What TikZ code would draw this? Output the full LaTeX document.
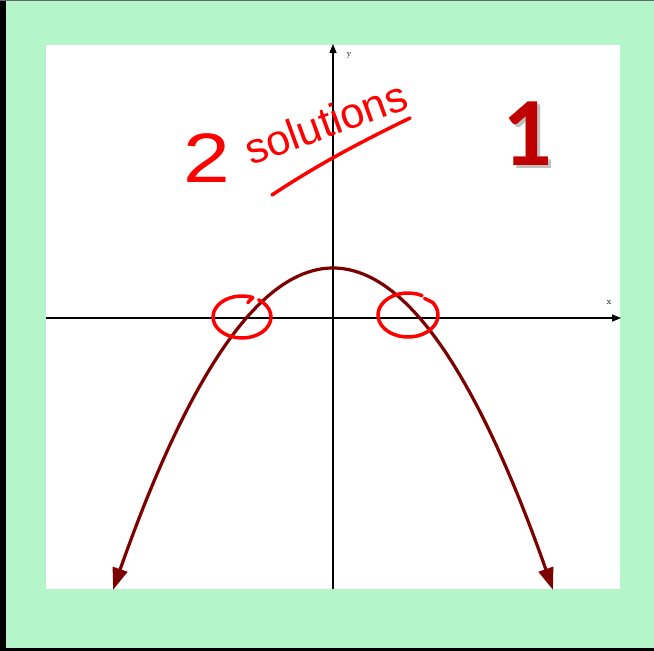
\documentclass[tikz,border=0pt]{standalone}
\usepackage{fontspec}
\newfontfamily\numfont{Carlito}
\newfontfamily\handfont{Liberation Sans}
\usetikzlibrary{arrows.meta}
\definecolor{framegreen}{RGB}{180,246,201}
\definecolor{curvered}{RGB}{125,0,0}
\definecolor{numred}{RGB}{192,0,0}
\tikzset{
  axis/.style={line width=1.4, -{Triangle[length=9,width=7]}},
  hand/.style={red, line width=3.5, line cap=round, line join=round},
}
\begin{document}
\begin{tikzpicture}[x=1pt,y=-1pt]
  \useasboundingbox (0,0) rectangle (654,651);
  % frame
  \fill[framegreen] (0,0) rectangle (654,651);
  \fill[black] (0,0) rectangle (6,651);
  \fill[black] (0,648) rectangle (654,651);
  \fill[black!60] (0,0) rectangle (654,1);
  \fill[white] (46,45) rectangle (620,589);
  % axes
  \coordinate (O) at (333,318);
  \coordinate (L) at (46,318);
  \coordinate (R) at (621,318);
  \coordinate (B) at (333,589);
  \coordinate (T) at (333,44);
  \draw[axis] (L) -- (R);
  \draw[axis] (B) -- (T);
  \node (xlab) at (609,303) {\fontsize{9}{9}\selectfont x};
  \node (ylab) at (349,55) {\fontsize{9}{9}\selectfont y};
  % parabola
  \draw[curvered, line width=3.2, {Triangle[length=22,width=15]}-{Triangle[length=22,width=15]}]
    plot[domain=-2.2:2.2, samples=80, smooth] (333+100*\x, 268+66.53*\x*\x);
  % circled roots
  \coordinate (LC) at (242,317);
  \coordinate (RC) at (408,315);
  \draw[hand] (LC) ++(-55:29 and 21) arc[start angle=-55, end angle=292, x radius=29, y radius=21] -- ++(-5,5);
  \draw[hand] (RC) ++(-62:30 and 22) arc[start angle=-62, end angle=-395, x radius=30, y radius=22] -- ++(-8,-4);
  % note
  \node[red, anchor=base, xscale=1.2, inner sep=0] (two) at (207,182)
    {\handfont\fontsize{70}{70}\selectfont 2};
  \node[red, anchor=base west, rotate=20, inner sep=0] (note) at (251,166)
    {\handfont\fontsize{43}{43}\selectfont solutions};
  \coordinate (U1) at (272,195);
  \coordinate (U2) at (410,118);
  \draw[hand] (U1) .. controls (320,163) and (365,140) .. (U2);
  % number
  \node[gray!50] (numshadow) at (530,137) {\numfont\bfseries\fontsize{98}{98}\selectfont 1};
  \node[numred] (num) at (527,134) {\numfont\bfseries\fontsize{98}{98}\selectfont 1};
\end{tikzpicture}
\end{document}
